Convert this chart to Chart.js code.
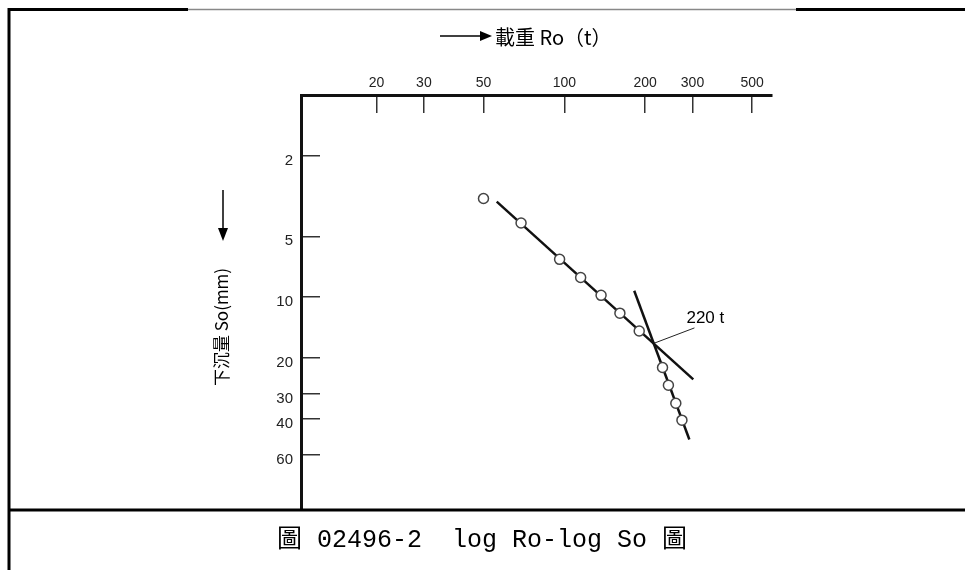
<!DOCTYPE html>
<html>
<head>
<meta charset="utf-8">
<script src="https://cdn.jsdelivr.net/npm/chart.js@4.4.1/dist/chart.umd.min.js"></script>
<style>
  html, body { margin: 0; padding: 0; background: #fff; }
  canvas { display: block; }
</style>
</head>
<body>
<canvas id="chart" width="965" height="570"></canvas>
<script>
// load Ro (t) and settlement So (mm) of the test points
const loadRo = [50, 69, 96, 115, 137, 161, 190, 232, 244, 260, 274];
const settleSo = [3.25, 4.3, 6.5, 8.0, 9.8, 12.0, 14.7, 22.3, 27.3, 33.5, 40.6];

// the two straight fits and the leader to the yield point
const line1Ro = [56, 302];
const line1So = [3.37, 25.5];
const line2Ro = [182, 292];
const line2So = [9.3, 50.6];
const leaderRo = [216, 305];
const leaderSo = [16.9, 14.2];
const yieldLabel = '220 t';

// axis ticks
const xTicks = [20, 30, 50, 100, 200, 300, 500];
const yTicks = [2, 5, 10, 20, 30, 40, 60];

const toPts = (xs, ys) => xs.map((x, i) => ({ x, y: ys[i] }));

// frame, titles, arrows and caption
const decor = {
    id: 'decor',
    afterDraw(chart) {
        const { ctx } = chart;
        ctx.save();

        // frame lines
        ctx.lineWidth = 3;
        ctx.strokeStyle = '#000';
        ctx.beginPath();
        ctx.moveTo(9, 9.5); ctx.lineTo(188, 9.5);
        ctx.moveTo(796, 9.5); ctx.lineTo(965, 9.5);
        ctx.moveTo(9, 8); ctx.lineTo(9, 570);
        ctx.moveTo(9, 510); ctx.lineTo(965, 510);
        ctx.stroke();
        ctx.lineWidth = 1.5;
        ctx.strokeStyle = '#888';
        ctx.beginPath();
        ctx.moveTo(188, 9.5); ctx.lineTo(796, 9.5);
        ctx.stroke();

        // x title with arrow
        ctx.fillStyle = '#000';
        ctx.strokeStyle = '#000';
        ctx.lineWidth = 1.5;
        ctx.beginPath();
        ctx.moveTo(440, 36); ctx.lineTo(482, 36);
        ctx.stroke();
        ctx.beginPath();
        ctx.moveTo(480, 31); ctx.lineTo(492, 36); ctx.lineTo(480, 41);
        ctx.closePath();
        ctx.fill();
        ctx.font = '20px "Noto Sans CJK TC"';
        ctx.textAlign = 'left';
        ctx.textBaseline = 'middle';
        ctx.fillText('載重 Ro（t）', 495, 37);

        // y title with arrow
        ctx.beginPath();
        ctx.moveTo(223, 190); ctx.lineTo(223, 230);
        ctx.stroke();
        ctx.beginPath();
        ctx.moveTo(218, 228); ctx.lineTo(223, 241); ctx.lineTo(228, 228);
        ctx.closePath();
        ctx.fill();
        ctx.save();
        ctx.translate(222, 327);
        ctx.rotate(-Math.PI / 2);
        ctx.textAlign = 'center';
        ctx.font = '17px "Noto Sans CJK TC"';
        ctx.fillText('下沉量 So(mm)', 0, 0);
        ctx.restore();

        // yield label at end of leader
        const xs = chart.scales.x, ys = chart.scales.y;
        const lx = xs.getPixelForValue(leaderRo[1]);
        const ly = ys.getPixelForValue(leaderSo[1]);
        ctx.font = '17px "Liberation Sans"';
        ctx.textAlign = 'left';
        ctx.textBaseline = 'alphabetic';
        ctx.fillText(yieldLabel, lx - 8, ly - 5);

        // caption
        ctx.font = '25px "Liberation Mono", "Noto Sans CJK TC"';
        ctx.textAlign = 'center';
        ctx.textBaseline = 'middle';
        ctx.fillText('圖 02496-2  log Ro-log So 圖', 482, 540);

        ctx.restore();
    }
};

new Chart(document.getElementById('chart'), {
    type: 'scatter',
    data: {
        datasets: [
            {
                label: 'points',
                data: toPts(loadRo, settleSo),
                showLine: false,
                pointStyle: 'circle',
                pointRadius: 5,
                pointBorderWidth: 1.5,
                pointBorderColor: '#444',
                pointBackgroundColor: '#fff',
            },
            {
                label: 'fit 1',
                data: toPts(line1Ro, line1So),
                showLine: true,
                borderColor: '#111',
                borderWidth: 2.5,
                pointRadius: 0,
            },
            {
                label: 'fit 2',
                data: toPts(line2Ro, line2So),
                showLine: true,
                borderColor: '#111',
                borderWidth: 2.5,
                pointRadius: 0,
            },
            {
                label: 'leader',
                data: toPts(leaderRo, leaderSo),
                showLine: true,
                borderColor: '#222',
                borderWidth: 1,
                pointRadius: 0,
            },
        ],
    },
    options: {
        responsive: false,
        devicePixelRatio: 1,
        animation: false,
        layout: { padding: { left: 0, top: 0, right: 193, bottom: 60 } },
        scales: {
            x: {
                type: 'logarithmic',
                position: 'top',
                min: 10.46,
                max: 593,
                afterBuildTicks: (s) => { s.ticks = xTicks.map(v => ({ value: v })); },
                afterFit: (s) => { s.height = 95; },
                ticks: {
                    callback: (v) => String(v),
                    autoSkip: false,
                    maxRotation: 0,
                    padding: 21,
                    color: '#222',
                    font: { family: '"Liberation Sans Narrow", "Liberation Sans"', size: 14 },
                },
                grid: {
                    drawOnChartArea: false,
                    drawTicks: true,
                    tickLength: -18,
                    lineWidth: 1.5,
                    color: '#333',
                },
                border: { display: true, width: 3, color: '#111' },
            },
            y: {
                type: 'logarithmic',
                position: 'left',
                reverse: true,
                min: 1,
                max: 113,
                afterBuildTicks: (s) => { s.ticks = yTicks.map(v => ({ value: v })); },
                afterFit: (s) => { s.width = 301; },
                ticks: {
                    callback: (v) => String(v),
                    autoSkip: false,
                    padding: 27,
                    labelOffset: 5,
                    color: '#222',
                    font: { family: '"Liberation Sans"', size: 15 },
                },
                grid: {
                    drawOnChartArea: false,
                    drawTicks: true,
                    tickLength: -19,
                    lineWidth: 1.5,
                    color: '#333',
                },
                border: { display: true, width: 3, color: '#111' },
            },
        },
        plugins: {
            legend: { display: false },
            tooltip: { enabled: false },
        },
    },
    plugins: [decor],
});
</script>
</body>
</html>
